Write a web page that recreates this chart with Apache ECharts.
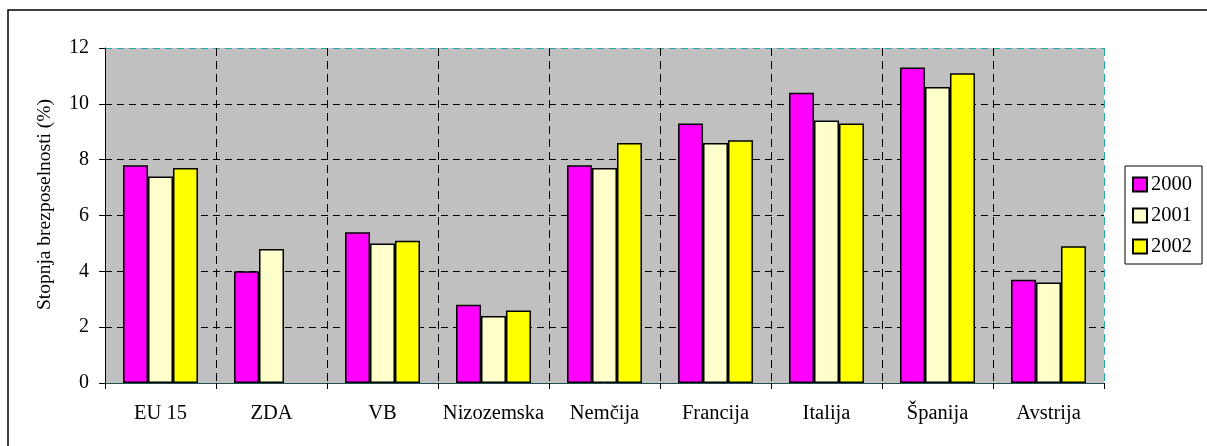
<!DOCTYPE html>
<html>
<head>
<meta charset="utf-8">
<script src="https://cdn.jsdelivr.net/npm/echarts@6/dist/echarts.min.js"></script>
<style>
  html, body { margin: 0; padding: 0; background: #fff; }
  #main { width: 1207px; height: 446px; }
</style>
</head>
<body>
<div id="main"></div>
<script>
var countries = ['EU 15', 'ZDA', 'VB', 'Nizozemska', 'Nemčija', 'Francija', 'Italija', 'Španija', 'Avstrija'];
var years = ['2000', '2001', '2002'];
var y2000 = [7.8, 4.0, 5.4, 2.8, 7.8, 9.3, 10.4, 11.3, 3.7];
var y2001 = [7.4, 4.8, 5.0, 2.4, 7.7, 8.6, 9.4, 10.6, 3.6];
var y2002 = [7.7, null, 5.1, 2.6, 8.6, 8.7, 9.3, 11.1, 4.9];
var barColors = ['#FF00FF', '#FFFFCC', '#FFFF00'];

var font = '"Liberation Serif", "Times New Roman", serif';
var chart = echarts.init(document.getElementById('main'));

function bar(name, data, color) {
  return {
    name: name,
    type: 'bar',
    data: data,
    barGap: '0%',
    barCategoryGap: '32.5%',
    itemStyle: {
      color: color,
      borderColor: '#000',
      borderWidth: 1.5
    }
  };
}

var option = {
  backgroundColor: '#fff',
  animation: false,
  textStyle: { fontFamily: font },
  graphic: [{
    type: 'rect',
    shape: { x: 8, y: 10, width: 1400, height: 600 },
    style: { fill: 'none', stroke: '#000', lineWidth: 1.5 },
    silent: true
  }],
  grid: {
    left: 105,
    right: 103,
    top: 48,
    bottom: 63,
    show: true,
    backgroundColor: '#C0C0C0',
    borderWidth: 0
  },
  legend: {
    orient: 'vertical',
    left: 1125,
    top: 166,
    data: years,
    itemWidth: 14,
    itemHeight: 14,
    itemGap: 10,
    padding: [8, 10, 7, 7],
    borderColor: '#000',
    borderWidth: 1,
    backgroundColor: '#fff',
    icon: 'rect',
    textStyle: { fontFamily: font, fontSize: 20.5, color: '#000', padding: [0, 0, 0, -1] }
  },
  xAxis: {
    type: 'category',
    data: countries,
    boundaryGap: true,
    axisLine: { lineStyle: { color: '#1f4f4f', width: 1 } },
    axisTick: { show: true, interval: 0, length: 6, lineStyle: { color: '#000' } },
    axisLabel: { interval: 0, margin: 20, fontFamily: font, fontSize: 20.5, color: '#000' },
    splitLine: {
      show: true,
      interval: 0,
      lineStyle: {
        color: ['#000', '#000', '#000', '#000', '#000', '#000', '#000', '#000', '#000', '#22AAAA'],
        type: [8, 5],
        width: 1
      }
    }
  },
  yAxis: {
    type: 'value',
    min: 0,
    max: 12,
    interval: 2,
    name: 'Stopnja brezposelnosti (%)',
    nameLocation: 'middle',
    nameGap: 50,
    nameTextStyle: { fontFamily: font, fontSize: 19.5, color: '#000', padding: [0, 0, 0, 22] },
    axisLine: { show: true, lineStyle: { color: '#000', width: 1 } },
    axisTick: { show: true, length: 6, lineStyle: { color: '#000' } },
    axisLabel: { margin: 16, fontFamily: font, fontSize: 20, color: '#000' },
    splitLine: {
      show: true,
      lineStyle: {
        color: ['#000', '#000', '#000', '#000', '#000', '#000', '#22AAAA'],
        type: [7, 5],
        width: 1
      }
    }
  },
  series: [
    bar(years[0], y2000, barColors[0]),
    bar(years[1], y2001, barColors[1]),
    bar(years[2], y2002, barColors[2])
  ]
};

chart.setOption(option);
</script>
</body>
</html>
